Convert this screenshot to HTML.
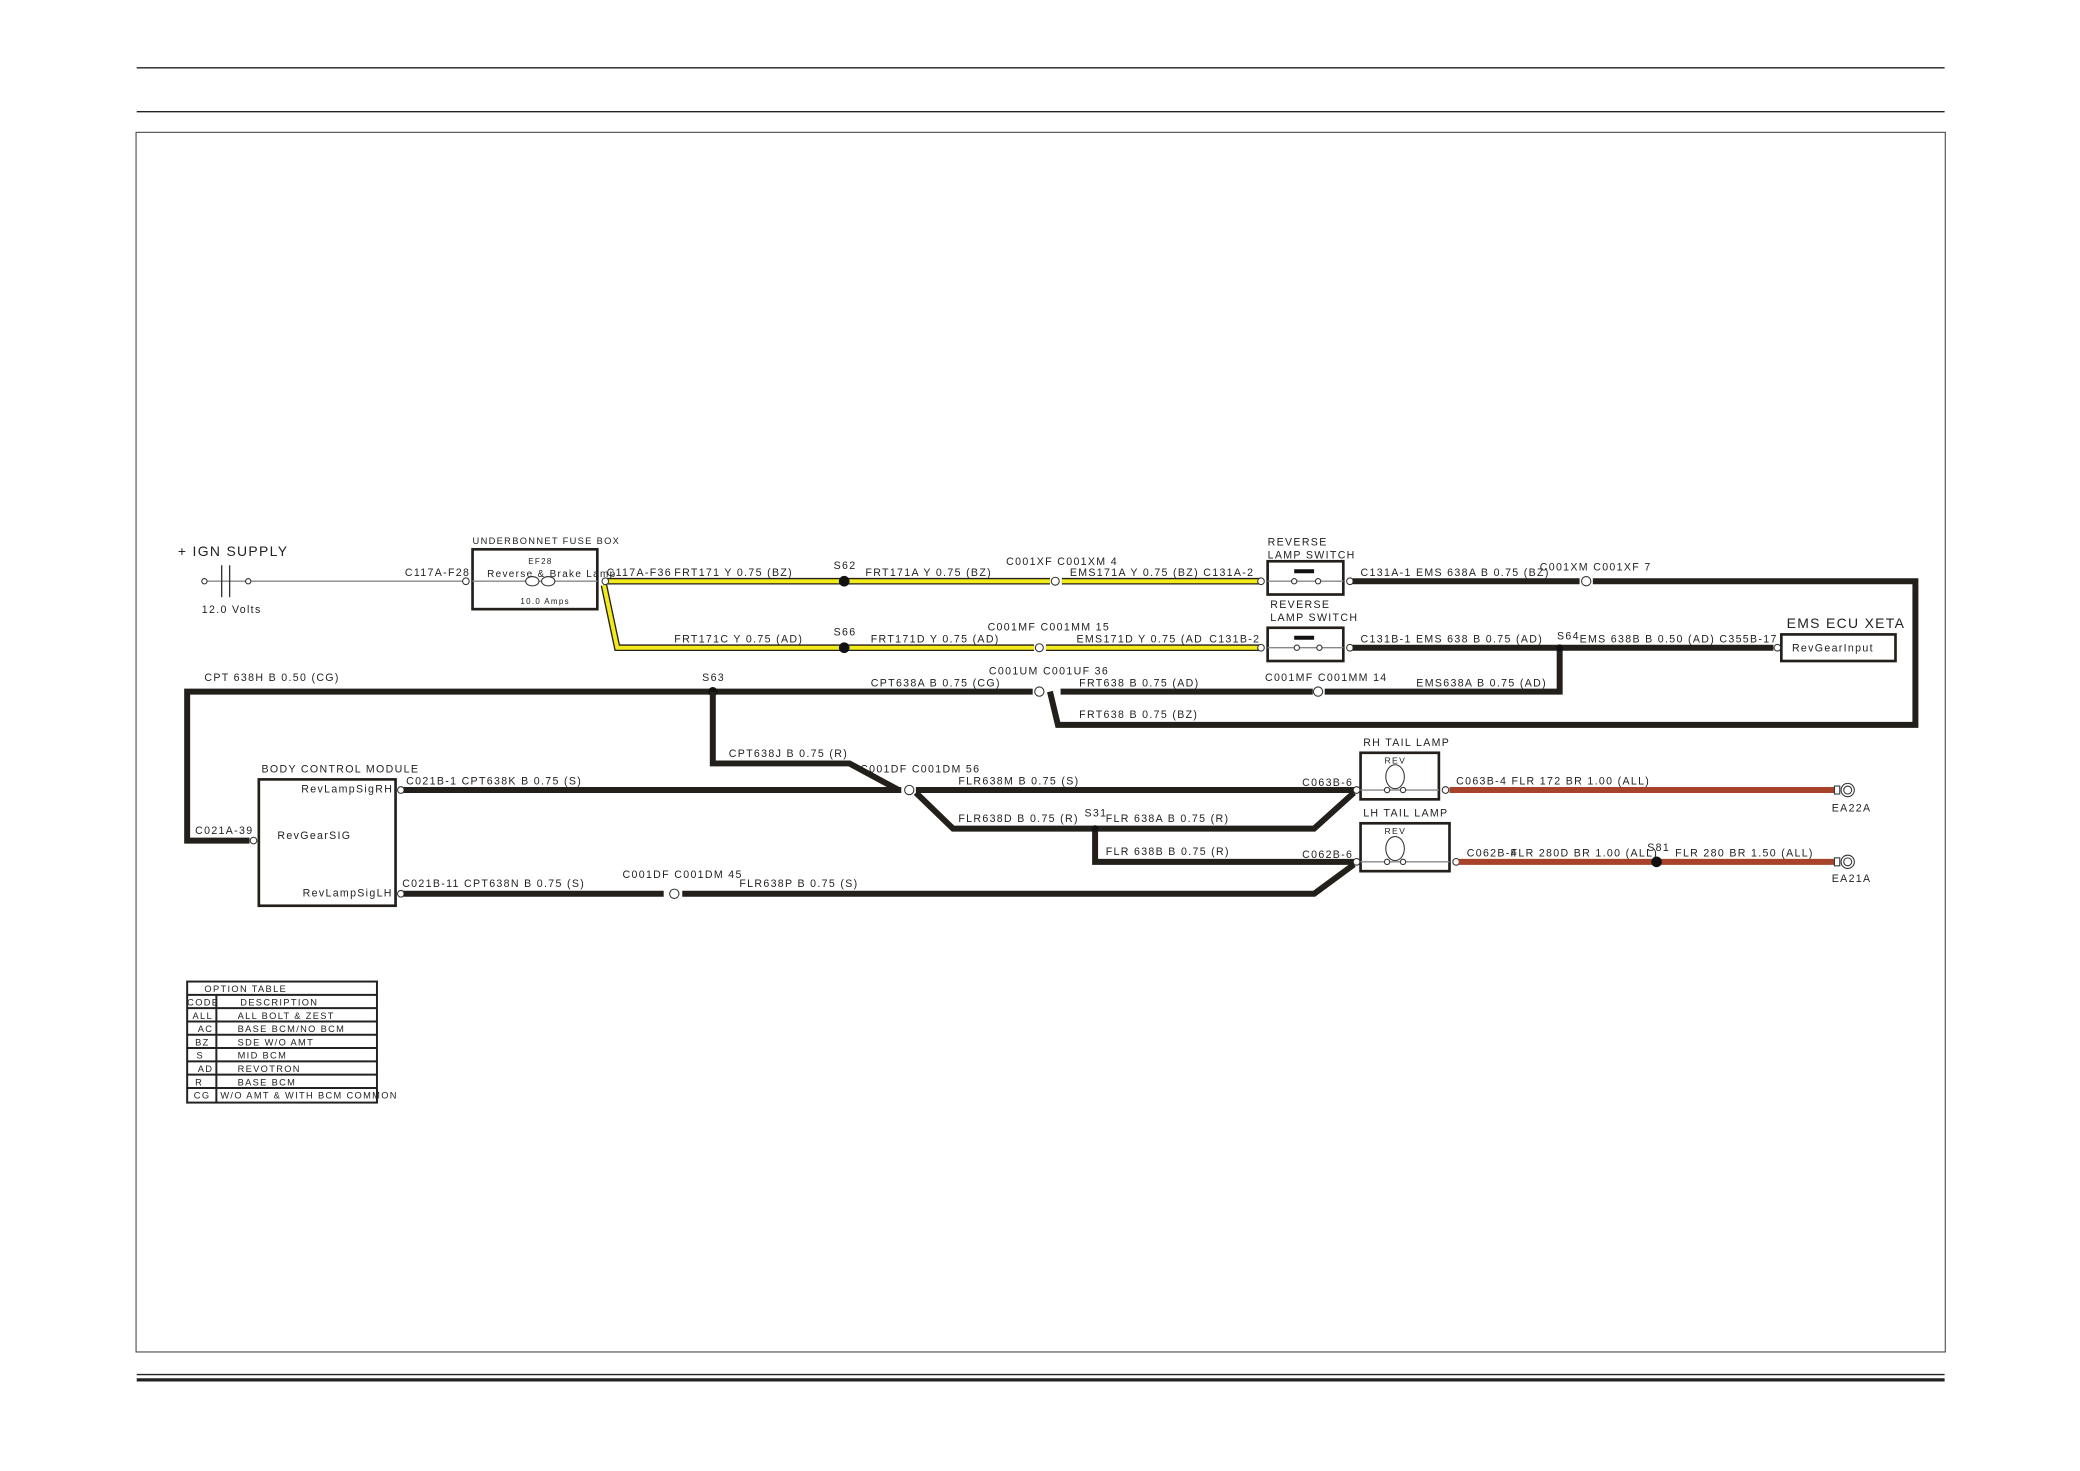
<!DOCTYPE html>
<html><head><meta charset="utf-8"><style>
html,body{margin:0;padding:0;background:#fff;}
svg{display:block;}
text{font-family:"Liberation Sans",sans-serif;font-size:8px;letter-spacing:1px;fill:#222;}
.w{fill:none;stroke:#231f1a;stroke-width:4.5;stroke-linejoin:miter;}
.y{fill:none;stroke:#231f1a;stroke-width:5;}
.yi{fill:none;stroke:#f2ea1a;stroke-width:3;}
.r{fill:none;stroke:#a8432b;stroke-width:4.5;}
.g{fill:none;stroke:#888;stroke-width:1;}
.b{fill:#fff;stroke:#231f1a;stroke-width:2;}
.c{fill:#fff;stroke:#333;stroke-width:0.8;}
</style></head><body>
<svg width="2080" height="1471" viewBox="0 0 1567 1106" preserveAspectRatio="none" xmlns="http://www.w3.org/2000/svg">
<line x1="103" y1="51" x2="1465" y2="51" stroke="#222" stroke-width="1"/>
<line x1="103" y1="84" x2="1465" y2="84" stroke="#222" stroke-width="1"/>
<rect x="102.5" y="99.5" width="1363" height="917" fill="none" stroke="#444" stroke-width="0.8"/>
<line x1="103" y1="1033.5" x2="1465" y2="1033.5" stroke="#222" stroke-width="1"/>
<line x1="103" y1="1037.5" x2="1465" y2="1037.5" stroke="#222" stroke-width="2.5"/>

<!-- IGN supply -->
<text x="134" y="418" style="font-size:10.5px">+ IGN SUPPLY</text>
<line x1="154" y1="437" x2="350" y2="437" class="g"/>
<circle cx="154" cy="437" r="2" class="c"/><circle cx="187" cy="437" r="2" class="c"/>
<line x1="167" y1="425" x2="167" y2="449" stroke="#333"/><line x1="173" y1="425" x2="173" y2="449" stroke="#333"/>
<text x="152" y="461">12.0 Volts</text>
<text x="305" y="433">C117A-F28</text>

<!-- Fuse box -->
<text x="356" y="409" style="font-size:7px">UNDERBONNET FUSE BOX</text>
<rect x="356" y="413" width="94" height="45" class="b"/>
<line x1="356" y1="437" x2="450" y2="437" class="g"/>
<text x="398" y="424" style="font-size:6px">EF28</text>
<text x="367" y="434" style="font-size:7.5px">Reverse &amp; Brake Lamp</text>
<ellipse cx="401" cy="437" rx="5" ry="3.5" class="c"/><ellipse cx="413" cy="437" rx="5" ry="3.5" class="c"/>
<text x="392" y="454" style="font-size:6px">10.0 Amps</text>
<circle cx="351" cy="437" r="2.5" class="c"/>

<!-- yellow wires -->
<path d="M455 437 L791 437 M800 437 L950 437" class="y"/>
<path d="M455 437 L791 437 M800 437 L950 437" class="yi"/>
<path d="M455 440 L465 487 L779 487 M788 487 L950 487" class="y"/>
<path d="M455 440 L465 487 L779 487 M788 487 L950 487" class="yi"/>
<circle cx="636" cy="437" r="4" fill="#111"/><circle cx="636" cy="487" r="4" fill="#111"/>
<circle cx="456" cy="437" r="2.5" class="c"/>
<circle cx="795" cy="437" r="3" class="c"/><circle cx="783" cy="487" r="3" class="c"/>
<text x="457" y="433">C117A-F36</text>
<text x="508" y="433">FRT171 Y 0.75 (BZ)</text>
<text x="628" y="428">S62</text>
<text x="652" y="433">FRT171A Y 0.75 (BZ)</text>
<text x="758" y="425">C001XF C001XM 4</text>
<text x="806" y="433">EMS171A Y 0.75 (BZ) C131A-2</text>
<text x="508" y="483">FRT171C Y 0.75 (AD)</text>
<text x="628" y="478">S66</text>
<text x="656" y="483">FRT171D Y 0.75 (AD)</text>
<text x="744" y="474">C001MF C001MM 15</text>
<text x="811" y="483">EMS171D Y 0.75 (AD</text>
<text x="911" y="483">C131B-2</text>

<!-- switches -->
<text x="955" y="410">REVERSE</text><text x="955" y="420">LAMP SWITCH</text>
<rect x="955" y="422" width="57" height="25" class="b"/>
<line x1="955" y1="437" x2="1012" y2="437" class="g"/>
<rect x="975" y="428" width="15" height="3" fill="#111"/>
<circle cx="975" cy="437" r="2" class="c"/><circle cx="993" cy="437" r="2" class="c"/>
<text x="957" y="457">REVERSE</text><text x="957" y="467">LAMP SWITCH</text>
<rect x="955" y="472" width="57" height="25" class="b"/>
<line x1="955" y1="487" x2="1012" y2="487" class="g"/>
<rect x="975" y="478" width="15" height="3" fill="#111"/>
<circle cx="977" cy="487" r="2" class="c"/><circle cx="994" cy="487" r="2" class="c"/>
<circle cx="950" cy="437" r="2.5" class="c"/><circle cx="950" cy="487" r="2.5" class="c"/>
<circle cx="1017" cy="437" r="2.5" class="c"/><circle cx="1017" cy="487" r="2.5" class="c"/>

<!-- black wires right -->
<path d="M1019 437 L1190 437 M1200 437 L1443 437 L1443 545 L797 545 L791 520" class="w"/>
<circle cx="1195" cy="437" r="3.5" class="c"/>
<text x="1025" y="433">C131A-1 EMS 638A B 0.75 (BZ)</text>
<text x="1160" y="429">C001XM C001XF 7</text>
<text x="813" y="540">FRT638 B 0.75 (BZ)</text>
<path d="M1019 487 L1336 487" class="w"/>
<path d="M1175 487 L1175 520 L998 520" class="w"/>
<circle cx="1175" cy="487" r="2.5" fill="#111"/>
<text x="1025" y="483">C131B-1 EMS 638 B 0.75 (AD)</text>
<text x="1173" y="481">S64</text>
<text x="1190" y="483">EMS 638B B 0.50 (AD) C355B-17</text>
<text x="1346" y="472" style="font-size:10.5px">EMS ECU XETA</text>
<rect x="1342" y="477" width="86" height="20" class="b"/>
<text x="1350" y="490">RevGearInput</text>
<circle cx="1339" cy="487" r="2.5" class="c"/>

<!-- line y=520 -->
<path d="M989 520 L799 520 M778 520 L141 520 L141 632 L188 632" class="w"/>
<circle cx="783" cy="520" r="3.5" class="c"/><circle cx="993" cy="520" r="3.5" class="c"/>
<circle cx="537" cy="520" r="3.5" fill="#111"/>
<text x="154" y="512">CPT 638H B 0.50 (CG)</text>
<text x="529" y="512">S63</text>
<text x="656" y="516">CPT638A B 0.75 (CG)</text>
<text x="745" y="507">C001UM C001UF 36</text>
<text x="813" y="516">FRT638 B 0.75 (AD)</text>
<text x="953" y="512">C001MF C001MM 14</text>
<text x="1067" y="516">EMS638A B 0.75 (AD)</text>
<text x="147" y="627">C021A-39</text>
<circle cx="191" cy="632" r="2.5" class="c"/>

<path d="M537 520 L537 574 L640 574 L677 594" class="w"/>
<text x="549" y="569">CPT638J B 0.75 (R)</text>

<!-- BCM -->
<text x="197" y="581">BODY CONTROL MODULE</text>
<rect x="195" y="586" width="103" height="95" class="b"/>
<text x="227" y="596">RevLampSigRH</text>
<text x="209" y="631">RevGearSIG</text>
<text x="228" y="674">RevLampSigLH</text>
<circle cx="302" cy="594" r="2.5" class="c"/><circle cx="302" cy="672" r="2.5" class="c"/>

<path d="M304 594 L679 594 M690 594 L1020 594" class="w"/>
<path d="M690 596 L718 623 L990 623 L1020 596" class="w"/>
<path d="M825 623 L825 648 L1020 648" class="w"/>
<path d="M304 672 L500 672 M514 672 L990 672 L1020 650" class="w"/>
<circle cx="685" cy="594" r="3.5" class="c"/><circle cx="508" cy="672" r="3.5" class="c"/>
<circle cx="825" cy="623" r="2.5" fill="#111"/>
<text x="306" y="590">C021B-1  CPT638K B 0.75 (S)</text>
<text x="648" y="581">C001DF C001DM 56</text>
<text x="722" y="590">FLR638M B 0.75 (S)</text>
<text x="722" y="618">FLR638D B 0.75 (R)</text>
<text x="817" y="614">S31</text>
<text x="833" y="618">FLR 638A B 0.75 (R)</text>
<text x="833" y="643">FLR 638B B 0.75 (R)</text>
<text x="303" y="667">C021B-11 CPT638N B 0.75 (S)</text>
<text x="469" y="660">C001DF C001DM 45</text>
<text x="557" y="667">FLR638P B 0.75 (S)</text>

<!-- tail lamps -->
<text x="1027" y="561">RH TAIL LAMP</text>
<rect x="1025" y="566" width="59" height="35" class="b"/>
<text x="1043" y="574" style="font-size:6.5px">REV</text>
<ellipse cx="1051" cy="584" rx="7" ry="9" class="c"/>
<line x1="1025" y1="594" x2="1084" y2="594" class="g"/>
<circle cx="1045" cy="594" r="2" class="c"/><circle cx="1057" cy="594" r="2" class="c"/>
<text x="981" y="591">C063B-6</text>
<text x="1027" y="614">LH TAIL LAMP</text>
<rect x="1025" y="619" width="67" height="36" class="b"/>
<text x="1043" y="627" style="font-size:6.5px">REV</text>
<ellipse cx="1051" cy="638" rx="7" ry="9" class="c"/>
<line x1="1025" y1="648" x2="1092" y2="648" class="g"/>
<circle cx="1045" cy="648" r="2" class="c"/><circle cx="1057" cy="648" r="2" class="c"/>
<text x="981" y="645">C062B-6</text>
<circle cx="1022" cy="594" r="2.5" class="c"/><circle cx="1022" cy="648" r="2.5" class="c"/>
<circle cx="1089" cy="594" r="2.5" class="c"/><circle cx="1097" cy="648" r="2.5" class="c"/>

<path d="M1092 594 L1382 594" class="r"/>
<path d="M1099 648 L1382 648" class="r"/>
<circle cx="1248" cy="648" r="4" fill="#111"/>
<rect x="1382" y="591" width="4" height="6" class="c"/><circle cx="1392" cy="594" r="5" class="c"/><circle cx="1392" cy="594" r="3" class="c"/>
<rect x="1382" y="645" width="4" height="6" class="c"/><circle cx="1392" cy="648" r="5" class="c"/><circle cx="1392" cy="648" r="3" class="c"/>
<text x="1380" y="610">EA22A</text>
<text x="1380" y="663">EA21A</text>
<text x="1097" y="590">C063B-4   FLR  172 BR 1.00 (ALL)</text>
<text x="1105" y="644">C062B-4</text>
<text x="1138" y="644">FLR 280D BR 1.00 (ALL)</text>
<text x="1241" y="640">S81</text>
<text x="1262" y="644">FLR 280 BR 1.50 (ALL)</text>

<!-- option table -->
<g stroke="#222" stroke-width="1.5" fill="none">
<rect x="141" y="738" width="143" height="91"/>
<line x1="141" y1="748" x2="284" y2="748"/><line x1="141" y1="758" x2="284" y2="758"/>
<line x1="141" y1="768" x2="284" y2="768"/><line x1="141" y1="778" x2="284" y2="778"/>
<line x1="141" y1="788" x2="284" y2="788"/><line x1="141" y1="798" x2="284" y2="798"/>
<line x1="141" y1="808" x2="284" y2="808"/><line x1="141" y1="818" x2="284" y2="818"/>
<line x1="163" y1="748" x2="163" y2="829"/>
</g>
<g>
<text x="154" y="746" style="font-size:7px">OPTION TABLE</text>
<text x="141" y="756" style="font-size:7px">CODE</text><text x="181" y="756" style="font-size:7px">DESCRIPTION</text>
<text x="145" y="766" style="font-size:7px">ALL</text><text x="179" y="766" style="font-size:7px">ALL BOLT &amp; ZEST</text>
<text x="149" y="776" style="font-size:7px">AC</text><text x="179" y="776" style="font-size:7px">BASE BCM/NO BCM</text>
<text x="147" y="786" style="font-size:7px">BZ</text><text x="179" y="786" style="font-size:7px">SDE W/O AMT</text>
<text x="148" y="796" style="font-size:7px">S</text><text x="179" y="796" style="font-size:7px">MID BCM</text>
<text x="149" y="806" style="font-size:7px">AD</text><text x="179" y="806" style="font-size:7px">REVOTRON</text>
<text x="147" y="816" style="font-size:7px">R</text><text x="179" y="816" style="font-size:7px">BASE BCM</text>
<text x="146" y="826" style="font-size:7px">CG</text><text x="166" y="826" style="font-size:7px">W/O AMT &amp; WITH BCM COMMON</text>
</g>
</svg>
</body></html>
